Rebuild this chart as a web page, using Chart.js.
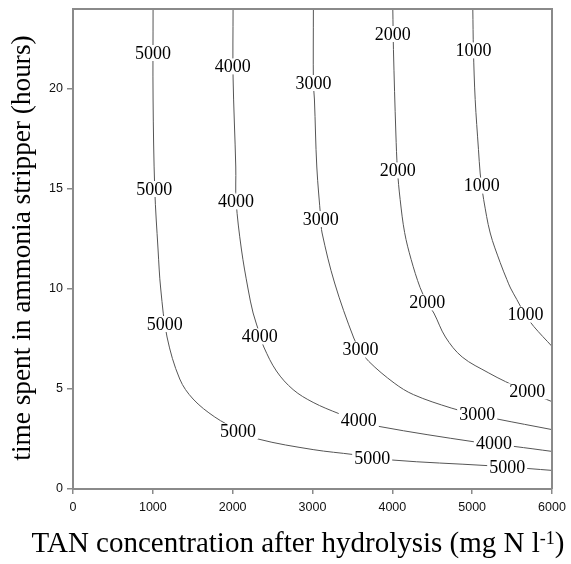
<!DOCTYPE html>
<html>
<head>
<meta charset="utf-8">
<script src="https://cdn.jsdelivr.net/npm/chart.js@4.4.1/dist/chart.umd.min.js"></script>
<style>html,body{margin:0;padding:0;background:#fff;overflow:hidden}</style>
</head>
<body>
<canvas id="c" width="571" height="564"></canvas>
<script>
// ---- axis ticks ----
const xTicks = [0, 1000, 2000, 3000, 4000, 5000, 6000];
const yTicks = [0, 5, 10, 15, 20];
const xTitleMain = 'TAN concentration after hydrolysis (mg N l';
const xTitleSup = '-1';
const xTitleEnd = ')';
const yTitle = 'time spent in ammonia stripper (hours)';

// ---- contour lines (TAN mg N/l, hours) ----
const c5000_TAN   = [1003, 1003, 1024, 1065, 1099, 1178, 1337, 1504, 1776, 2068, 2318, 3008, 3517, 3997, 5188, 5711, 6000];
const c5000_hours = [24.0, 19.5, 15.0, 12.0, 10.0, 7.6, 5.5, 4.5, 3.6, 2.95, 2.5, 1.97, 1.72, 1.45, 1.17, 1.02, 0.93];

const c4000_TAN   = [2005, 2005, 2039, 2043, 2109, 2193, 2256, 2343, 2390, 2548, 2757, 3008, 3330, 3580, 3831, 5041, 5523, 6000];
const c4000_hours = [24.0, 20.6, 16.1, 14.4, 12.0, 10.0, 8.8, 7.7, 7.1, 5.9, 4.97, 4.33, 3.77, 3.42, 3.13, 2.35, 2.13, 1.88];

const c3000_TAN   = [3011, 3011, 3024, 3054, 3104, 3120, 3277, 3517, 3600, 3705, 4023, 4264, 4737, 5063, 5313, 6000];
const c3000_hours = [24.0, 20.3, 19.5, 16.1, 13.5, 12.8, 10.3, 7.55, 6.97, 6.38, 5.3, 4.72, 4.05, 3.72, 3.5, 2.97];

const c2000_TAN   = [4006, 4014, 4044, 4064, 4098, 4154, 4236, 4348, 4436, 4520, 4665, 4875, 5209, 5417, 5689, 6000];
const c2000_hours = [24.0, 21.97, 17.8, 15.97, 14.47, 12.82, 11.47, 10.07, 9.32, 8.8, 7.6, 6.6, 5.8, 5.37, 4.87, 4.37];

const c1000_TAN   = [5008, 5016, 5038, 5079, 5100, 5119, 5144, 5226, 5351, 5435, 5480, 5560, 5664, 5771, 6000];
const c1000_hours = [24.0, 21.93, 19.47, 16.97, 15.8, 15.17, 14.47, 12.8, 11.32, 10.47, 10.05, 9.47, 8.72, 8.13, 7.13];

// ---- contour label positions ----
const lab5000_TAN   = [1003, 1019, 1149, 2068, 3747, 5439];
const lab5000_hours = [21.8, 15.0, 8.25, 2.88, 1.55, 1.08];
const lab4000_TAN   = [2001, 2043, 2339, 3580, 5272];
const lab4000_hours = [21.13, 14.38, 7.63, 3.42, 2.27];
const lab3000_TAN   = [3011, 3104, 3600, 5063];
const lab3000_hours = [20.3, 13.5, 6.97, 3.72];
const lab2000_TAN   = [4006, 4069, 4436, 5689];
const lab2000_hours = [22.75, 15.93, 9.33, 4.88];
const lab1000_TAN   = [5016, 5121, 5668];
const lab1000_hours = [21.93, 15.17, 8.72];

const contours = [
  {level: '5000', xs: c5000_TAN, ys: c5000_hours, lx: lab5000_TAN, ly: lab5000_hours},
  {level: '4000', xs: c4000_TAN, ys: c4000_hours, lx: lab4000_TAN, ly: lab4000_hours},
  {level: '3000', xs: c3000_TAN, ys: c3000_hours, lx: lab3000_TAN, ly: lab3000_hours},
  {level: '2000', xs: c2000_TAN, ys: c2000_hours, lx: lab2000_TAN, ly: lab2000_hours},
  {level: '1000', xs: c1000_TAN, ys: c1000_hours, lx: lab1000_TAN, ly: lab1000_hours}
];

const AXIS_COLOR = '#8a8a8a';
const LINE_COLOR = '#555555';
Chart.defaults.font.family = '"Liberation Sans", Arial, sans-serif';

const decor = {
  id: 'decor',
  afterDatasetsDraw(chart) {
    const ctx = chart.ctx, sx = chart.scales.x, sy = chart.scales.y, a = chart.chartArea;
    ctx.save();
    ctx.font = '18px "Liberation Serif", "Times New Roman", serif';
    ctx.textAlign = 'center';
    ctx.textBaseline = 'middle';
    contours.forEach(c => {
      c.lx.forEach((xv, i) => {
        const px = sx.getPixelForValue(xv), py = sy.getPixelForValue(c.ly[i]);
        const w = ctx.measureText(c.level).width;
        ctx.fillStyle = '#fff';
        ctx.fillRect(px - w / 2 - 2, py - 8, w + 4, 16);
        ctx.fillStyle = '#000';
        ctx.fillText(c.level, px, py + 1);
      });
    });
    ctx.strokeStyle = AXIS_COLOR;
    ctx.lineWidth = 2;
    ctx.beginPath();
    ctx.moveTo(a.left, a.top);
    ctx.lineTo(a.right, a.top);
    ctx.lineTo(a.right, a.bottom);
    ctx.stroke();
    ctx.restore();
  },
  afterDraw(chart) {
    const ctx = chart.ctx;
    ctx.save();
    ctx.fillStyle = '#000';
    ctx.textBaseline = 'alphabetic';
    // x title with superscript
    const mainFont = '29px "Liberation Serif", "Times New Roman", serif';
    const supFont = '18px "Liberation Serif", "Times New Roman", serif';
    ctx.font = mainFont;
    const w1 = ctx.measureText(xTitleMain).width;
    const w3 = ctx.measureText(xTitleEnd).width;
    ctx.font = supFont;
    const w2 = ctx.measureText(xTitleSup).width;
    const total = w1 + w2 + w3;
    let x0 = 298 - total / 2;
    const base = 552;
    ctx.textAlign = 'left';
    ctx.font = mainFont;
    ctx.fillText(xTitleMain, x0, base);
    ctx.font = supFont;
    ctx.fillText(xTitleSup, x0 + w1, base - 8);
    ctx.font = mainFont;
    ctx.fillText(xTitleEnd, x0 + w1 + w2, base);
    // y title
    ctx.translate(30, 248);
    ctx.rotate(-Math.PI / 2);
    ctx.textAlign = 'center';
    ctx.font = '27.3px "Liberation Serif", "Times New Roman", serif';
    ctx.fillText(yTitle, 0, 0);
    ctx.restore();
  }
};

function zeroPad(s) { s.paddingTop = 0; s.paddingBottom = 0; s.paddingLeft = 0; s.paddingRight = 0; }

new Chart(document.getElementById('c'), {
  type: 'scatter',
  data: {
    datasets: contours.map(c => ({
      label: c.level,
      data: c.xs.map((v, i) => ({x: v, y: c.ys[i]})),
      showLine: true,
      borderColor: LINE_COLOR,
      borderWidth: 1,
      pointRadius: 0,
      tension: 0.35,
      fill: false
    }))
  },
  options: {
    responsive: false,
    animation: false,
    events: [],
    layout: {padding: {left: 0, top: 9, right: 19, bottom: 0}},
    plugins: {legend: {display: false}, tooltip: {enabled: false}},
    scales: {
      x: {
        type: 'linear', min: 0, max: 6000,
        afterBuildTicks: s => { s.ticks = xTicks.map(v => ({value: v})); },
        afterFit: s => { s.height = 75; zeroPad(s); },
        grid: {display: true, drawOnChartArea: false, drawTicks: true, tickLength: 5, color: AXIS_COLOR, lineWidth: 1.5},
        border: {display: true, color: AXIS_COLOR, width: 2},
        ticks: {color: '#111', font: {size: 12.5}, padding: 6, maxRotation: 0, autoSkip: false, callback: v => String(v)}
      },
      y: {
        type: 'linear', min: 0, max: 24,
        afterBuildTicks: s => { s.ticks = yTicks.map(v => ({value: v})); },
        afterFit: s => { s.width = 73; zeroPad(s); },
        grid: {display: true, drawOnChartArea: false, drawTicks: true, tickLength: 6, color: AXIS_COLOR, lineWidth: 1.5},
        border: {display: true, color: AXIS_COLOR, width: 2},
        ticks: {color: '#111', font: {size: 12.5}, padding: 4, autoSkip: false, callback: v => String(v)}
      }
    }
  },
  plugins: [decor]
});
</script>
</body>
</html>
